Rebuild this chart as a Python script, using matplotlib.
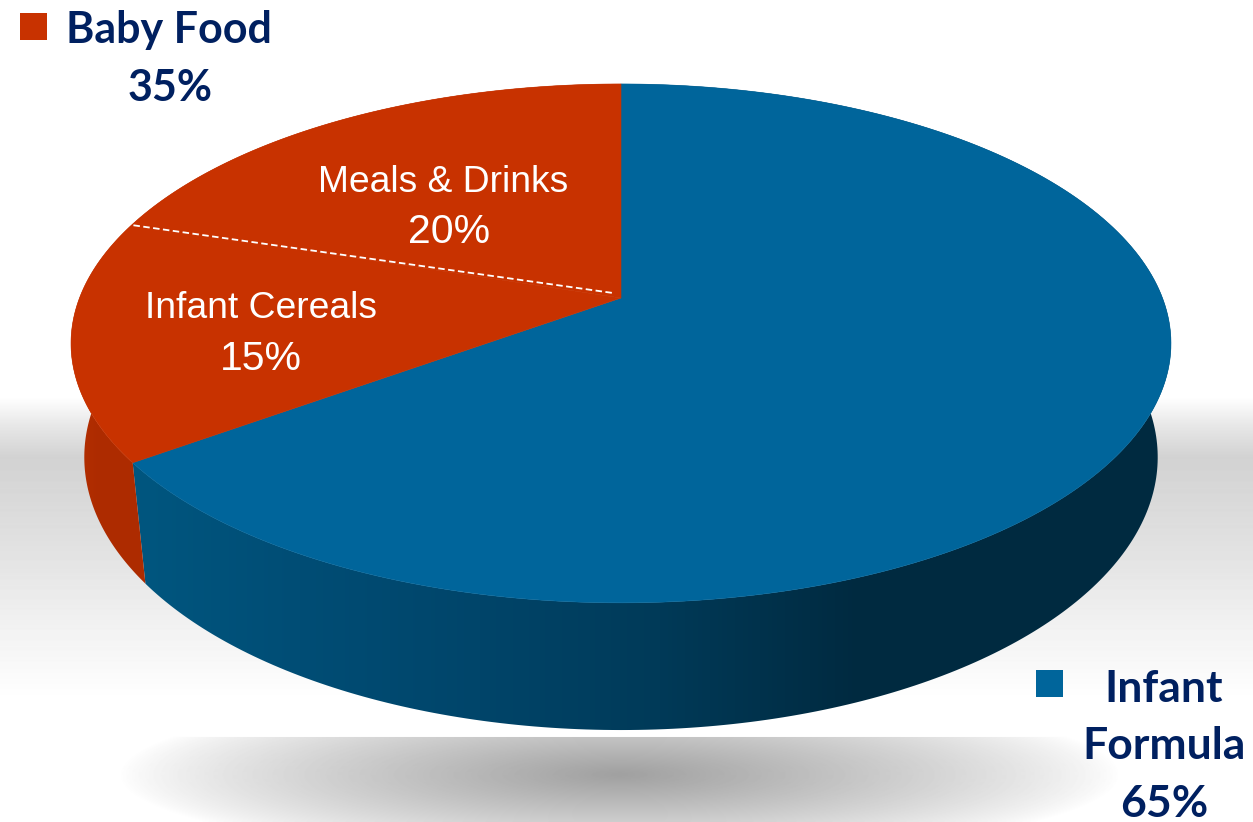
import numpy as np
import matplotlib.pyplot as plt
from matplotlib.patches import Polygon, Rectangle
from matplotlib.colors import to_rgb

W, H = 1253, 822

# pie data
slice_names = ['Infant Formula', 'Infant Cereals', 'Meals & Drinks']
slice_values = [65, 15, 20]
slice_colors = ['#00659b', '#c83200', '#c83200']
group_values = [35, 65]

navy = '#002060'

# perspective of the pie: apex on screen, disc scale, tilt and wall depth
cx, cy = 621, 298
k, a, c = 541.5, 251.5, 0.175
wall_d, wall_e = 0.024, -115.3


def project(theta, r=1.0, z=0.0):
    # theta in degrees clockwise from 12 o'clock, z=1 is the bottom of the wall
    t = np.radians(theta)
    u = r * np.sin(t)
    v = r * np.cos(t)
    den = 1 + c * v + wall_d * z
    return cx + k * u / den, cy - (a * v + wall_e * z) / den


def x_gradient(xs, stops, colors):
    # one row of rgb pixels shaded along x
    rgb = np.array([to_rgb(col) for col in colors])
    row = np.stack([np.interp(xs, stops, rgb[:, i]) for i in range(3)], axis=-1)
    return row[None, :, :]


fig = plt.figure(figsize=(W / 100, H / 100), dpi=100)
ax = fig.add_axes([0, 0, 1, 1])

# grey floor band and the soft shadow under the pie
ys = np.arange(H) + 0.5
xs = np.arange(W) + 0.5
band = np.interp(ys, [0, 398, 425, 458, 540, 635, 700, H], [255, 255, 232, 210, 224, 243, 255, 255])
bg = np.tile(band[:, None], (1, W))
xx, yy = np.meshgrid(xs, ys)
dist = np.sqrt(((xx - 620) / 500) ** 2 + ((yy - 775) / 85) ** 2)
shadow = 255 - 95 * np.clip(1 - dist, 0, 1) ** 0.8
bg = np.where(yy >= 737, np.minimum(bg, shadow), bg)
ax.imshow(bg, cmap='gray', vmin=0, vmax=255, extent=(0, W, H, 0), aspect='auto', zorder=0)

bounds = np.cumsum([0] + slice_values) * 3.6

# outer wall: a horizontal gradient clipped to the ring between top and bottom edge
blue_stops = ([140, 300, 480, 660, 860, 1170], ['#00567f', '#004d75', '#00456a', '#003a58', '#002a40', '#002a40'])
red_stops = ([70, 100, 146], ['#b53000', '#ad2b00', '#ad2b00'])
for i in range(len(slice_values)):
    th = np.linspace(bounds[i], bounds[i + 1], 300)
    tx, ty = project(th)
    bx, by = project(th, z=1)
    ring = np.column_stack([np.r_[tx, bx[::-1]], np.r_[ty, by[::-1]]])
    wall = Polygon(ring, closed=True, facecolor='none', edgecolor='none', transform=ax.transData)
    ax.add_patch(wall)
    stops = blue_stops if i == 0 else red_stops
    im = ax.imshow(x_gradient(xs, *stops), extent=(0, W, H, 0), aspect='auto', zorder=2)
    im.set_clip_path(wall)

# top face of the pie
for i in range(len(slice_values)):
    th = np.linspace(bounds[i], bounds[i + 1], 200)
    tx, ty = project(th)
    pts = np.column_stack([np.r_[cx, tx], np.r_[cy, ty]])
    ax.add_patch(Polygon(pts, closed=True, facecolor=slice_colors[i], edgecolor=slice_colors[i], lw=0.4, zorder=3))

# dashed divider between the two baby food slices
rx, ry = project(bounds[2])
ax.plot([rx + 1, cx - 8], [ry + 1, cy - 5], color='white', lw=1.3, dashes=(3.6, 1.9), zorder=4)

# slice labels
sans = 'Liberation Sans'
ax.text(443, 192, slice_names[2], color='white', fontsize=26.8, family=sans, ha='center', va='baseline', zorder=5)
ax.text(449, 243, f'{slice_values[2]}%', color='white', fontsize=29.5, family=sans, ha='center', va='baseline', zorder=5)
ax.text(261, 318, slice_names[1], color='white', fontsize=26.8, family=sans, ha='center', va='baseline', zorder=5)
ax.text(261, 370, f'{slice_values[1]}%', color='white', fontsize=29.5, family=sans, ha='center', va='baseline', zorder=5)

# group labels with their colour keys
bold = dict(color=navy, family='Lato', fontweight='bold', ha='center', va='baseline', zorder=5)
ax.add_patch(Rectangle((20, 13), 27, 27, facecolor='#c83200', edgecolor='none', zorder=5))
ax.text(169, 43, 'Baby Food', fontsize=31, **bold)
ax.text(170, 101, f'{group_values[0]}%', fontsize=31, **bold)
ax.add_patch(Rectangle((1036, 670), 27, 27, facecolor='#00659b', edgecolor='none', zorder=5))
ax.text(1164, 702, 'Infant', fontsize=32, **bold)
ax.text(1164, 759, 'Formula', fontsize=32, **bold)
ax.text(1164, 817, f'{group_values[1]}%', fontsize=32, **bold)

ax.set_xlim(0, W)
ax.set_ylim(H, 0)
ax.axis('off')
fig.savefig('out.png', dpi=100)
